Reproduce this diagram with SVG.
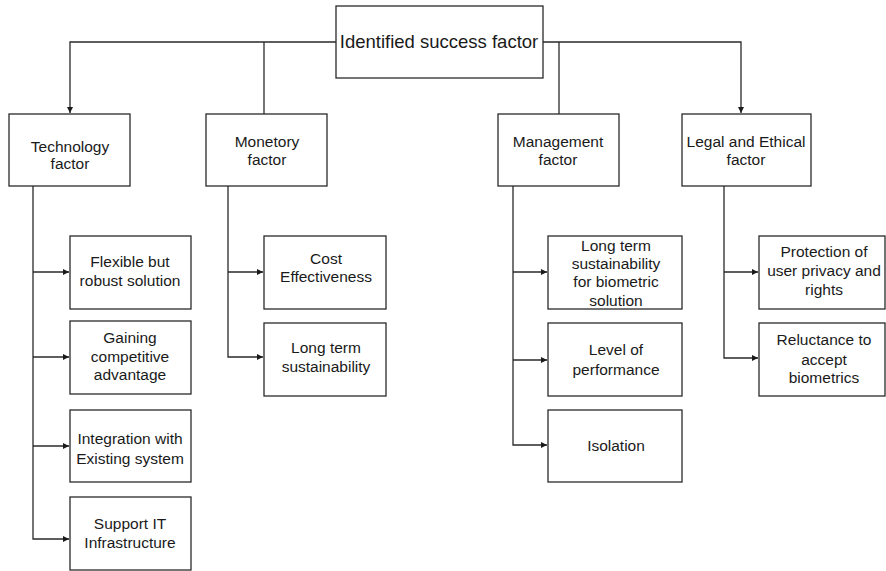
<svg xmlns="http://www.w3.org/2000/svg" width="886" height="571" viewBox="0 0 886 571">
  <style>
    .box { fill: #ffffff; stroke: #2a2a2a; stroke-width: 1.3; }
    .wire { fill: none; stroke: #2a2a2a; stroke-width: 1.3; }
    text { font-family: "Liberation Sans", Arial, sans-serif; fill: #1a1a1a; text-anchor: middle; }
    .t1 { font-size: 18.5px; }
    .t2 { font-size: 15.5px; }
  </style>
  <defs>
    <marker id="arrow" viewBox="0 0 8 8" refX="8" refY="4" markerWidth="6" markerHeight="6" markerUnits="userSpaceOnUse" orient="auto">
      <path d="M0,0 L8,4 L0,8 Z" fill="#1a1a1a"/>
    </marker>
  </defs>

  <rect width="886" height="571" fill="#ffffff"/>

  <!-- connectors -->
  <g id="connectors" class="wire">
    <!-- root to factors -->
    <path d="M336,42 H70 V113" marker-end="url(#arrow)"/>
    <path d="M264,42 V114"/>
    <path d="M543,42 H741 V113" marker-end="url(#arrow)"/>
    <path d="M559,42 V114"/>
    <!-- technology branch -->
    <path d="M33,186 V539 H69" marker-end="url(#arrow)"/>
    <path d="M33,272 H69" marker-end="url(#arrow)"/>
    <path d="M33,357 H69" marker-end="url(#arrow)"/>
    <path d="M33,446 H69" marker-end="url(#arrow)"/>
    <!-- monetory branch -->
    <path d="M228,186 V357 H263" marker-end="url(#arrow)"/>
    <path d="M228,272 H263" marker-end="url(#arrow)"/>
    <!-- management branch -->
    <path d="M513,186 V445 H547" marker-end="url(#arrow)"/>
    <path d="M513,272 H547" marker-end="url(#arrow)"/>
    <path d="M513,360 H547" marker-end="url(#arrow)"/>
    <!-- legal branch -->
    <path d="M724,186 V358 H758" marker-end="url(#arrow)"/>
    <path d="M724,272 H758" marker-end="url(#arrow)"/>
  </g>

  <!-- root -->
  <g id="root">
    <rect class="box" x="336" y="6" width="207" height="72"/>
    <text class="t1" x="439" y="48">Identified success factor</text>
  </g>

  <!-- factors -->
  <g id="technology">
    <rect class="box" x="9" y="114" width="121" height="72"/>
    <text class="t2" x="70" y="152">Technology</text>
    <text class="t2" x="70" y="169">factor</text>
  </g>
  <g id="monetory">
    <rect class="box" x="206" y="114" width="121" height="72"/>
    <text class="t2" x="267" y="147">Monetory</text>
    <text class="t2" x="267" y="165">factor</text>
  </g>
  <g id="management">
    <rect class="box" x="498" y="114" width="121" height="72"/>
    <text class="t2" x="558" y="147">Management</text>
    <text class="t2" x="558" y="165">factor</text>
  </g>
  <g id="legal">
    <rect class="box" x="682" y="114" width="129" height="72"/>
    <text class="t2" x="746" y="147">Legal and Ethical</text>
    <text class="t2" x="746" y="165">factor</text>
  </g>

  <!-- technology items -->
  <g id="flexible">
    <rect class="box" x="70" y="236" width="121" height="73"/>
    <text class="t2" x="130" y="267">Flexible but</text>
    <text class="t2" x="130" y="286">robust solution</text>
  </g>
  <g id="gaining">
    <rect class="box" x="70" y="321" width="121" height="73"/>
    <text class="t2" x="130" y="343">Gaining</text>
    <text class="t2" x="130" y="362">competitive</text>
    <text class="t2" x="130" y="380">advantage</text>
  </g>
  <g id="integration">
    <rect class="box" x="70" y="410" width="121" height="72"/>
    <text class="t2" x="130" y="444">Integration with</text>
    <text class="t2" x="130" y="464">Existing system</text>
  </g>
  <g id="support">
    <rect class="box" x="70" y="497" width="121" height="73"/>
    <text class="t2" x="130" y="529">Support IT</text>
    <text class="t2" x="130" y="548">Infrastructure</text>
  </g>

  <!-- monetory items -->
  <g id="cost">
    <rect class="box" x="264" y="236" width="122" height="73"/>
    <text class="t2" x="326" y="264">Cost</text>
    <text class="t2" x="326" y="282">Effectiveness</text>
  </g>
  <g id="longterm">
    <rect class="box" x="264" y="323" width="122" height="73"/>
    <text class="t2" x="326" y="353">Long term</text>
    <text class="t2" x="326" y="372">sustainability</text>
  </g>

  <!-- management items -->
  <g id="longterm-bio">
    <rect class="box" x="548" y="236" width="134" height="73"/>
    <text class="t2" x="616" y="251">Long term</text>
    <text class="t2" x="616" y="269">sustainability</text>
    <text class="t2" x="616" y="287">for biometric</text>
    <text class="t2" x="616" y="306">solution</text>
  </g>
  <g id="performance">
    <rect class="box" x="548" y="323" width="134" height="73"/>
    <text class="t2" x="616" y="355">Level of</text>
    <text class="t2" x="616" y="375">performance</text>
  </g>
  <g id="isolation">
    <rect class="box" x="548" y="410" width="134" height="72"/>
    <text class="t2" x="616" y="451">Isolation</text>
  </g>

  <!-- legal items -->
  <g id="privacy">
    <rect class="box" x="759" y="236" width="126" height="73"/>
    <text class="t2" x="824" y="257">Protection of</text>
    <text class="t2" x="824" y="276">user privacy and</text>
    <text class="t2" x="824" y="295">rights</text>
  </g>
  <g id="reluctance">
    <rect class="box" x="759" y="323" width="126" height="73"/>
    <text class="t2" x="824" y="345">Reluctance to</text>
    <text class="t2" x="824" y="365">accept</text>
    <text class="t2" x="824" y="383">biometrics</text>
  </g>
</svg>
